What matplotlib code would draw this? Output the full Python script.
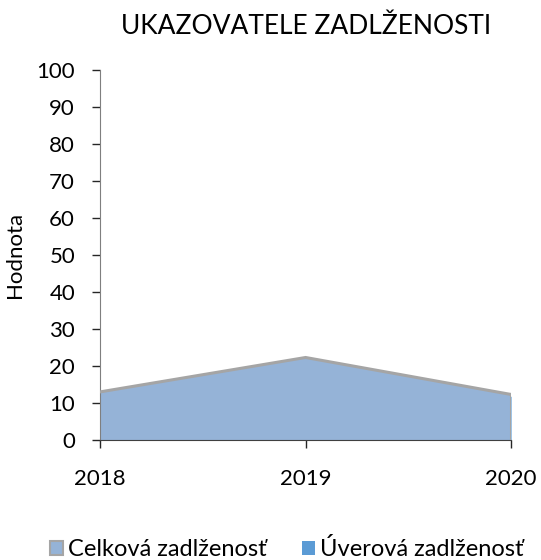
import matplotlib
matplotlib.use("Agg")
import matplotlib.pyplot as plt
from matplotlib.patches import Patch

years = ["2018", "2019", "2020"]
celkova = [13.0, 22.3, 12.3]
uverova = [12.5, 21.8, 11.8]
yticks = list(range(0, 101, 10))

plt.rcParams['font.family'] = ['Lato', 'DejaVu Sans']

fig = plt.figure(figsize=(5.41, 5.6), dpi=100)
ax = fig.add_axes([0.185, 0.2143, 0.7597, 0.6607])

x = list(range(len(years)))
ax.fill_between(x, 0, uverova, color='#5B9BD5', lw=0, zorder=1)
ax.fill_between(x, 0, celkova, facecolor='#95B3D7', edgecolor='none', zorder=2)
ax.plot(x, celkova, color='#A5A5A5', lw=2.2, zorder=3, solid_joinstyle='miter')
ax.plot([x[-1], x[-1]], [0, celkova[-1]], color='#A5A5A5', lw=2.2, zorder=3)

ax.set_xlim(0, 2)
ax.set_ylim(0, 100)
ax.set_xticks(x)
ax.set_xticklabels(years, fontsize=16)
ax.set_yticks(yticks)
ax.set_yticklabels([str(v) for v in yticks], fontsize=16)
ax.tick_params(axis='both', direction='out', length=6, width=1, color='#262626')
ax.tick_params(axis='y', pad=12)
ax.tick_params(axis='x', pad=15)
for s in ['top', 'right']:
    ax.spines[s].set_visible(False)
ax.spines['left'].set_color('#7F7F7F')
ax.spines['bottom'].set_color('#404040')
ax.set_ylabel('Hodnota', fontsize=16, labelpad=8)
ax.set_title('UKAZOVATELE ZADLŽENOSTI', fontsize=19, pad=26)

handles = [Patch(facecolor='#95B3D7', edgecolor='#A5A5A5', lw=1.5),
           Patch(facecolor='#5B9BD5', edgecolor='none')]
fig.legend(handles, ['Celková zadlženosť', 'Úverová zadlženosť'],
           loc='lower center', bbox_to_anchor=(0.53, -0.038), ncol=2, frameon=False,
           fontsize=17, handlelength=0.55, handleheight=0.55, handletextpad=0.2,
           columnspacing=1.5)

fig.savefig('out.png', dpi=100)
